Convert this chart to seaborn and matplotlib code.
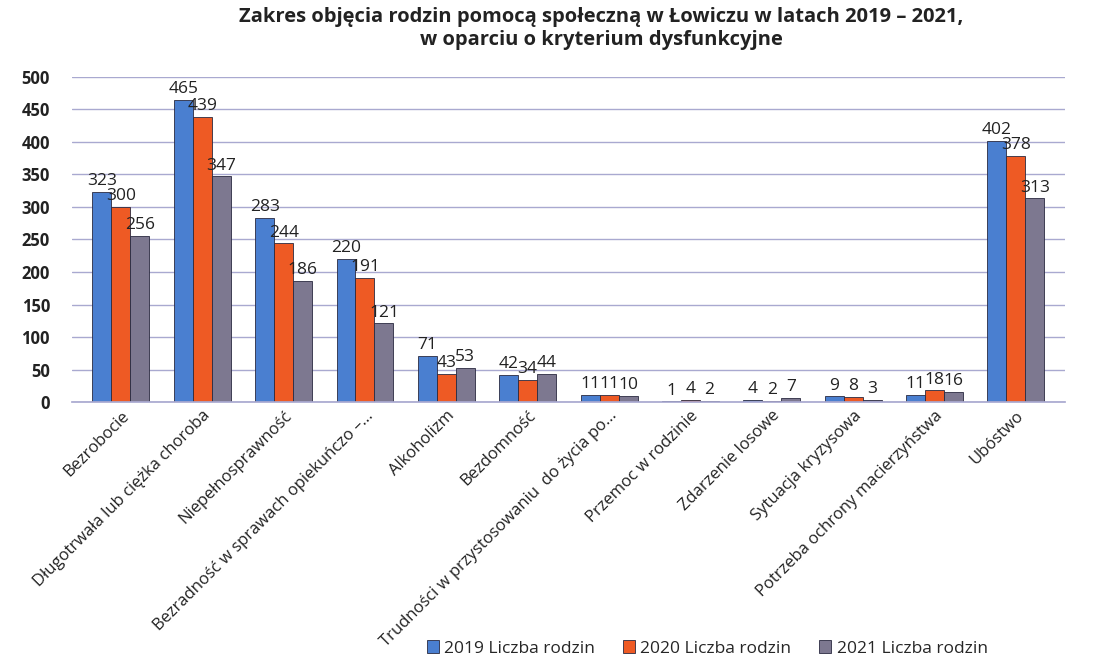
import matplotlib
matplotlib.use("Agg")
import matplotlib.pyplot as plt
import seaborn as sns
import pandas as pd

categories = [
    "Bezrobocie",
    "Długotrwała lub ciężka choroba",
    "Niepełnosprawność",
    "Bezradność w sprawach opiekuńczo –...",
    "Alkoholizm",
    "Bezdomność",
    "Trudności w przystosowaniu  do życia po...",
    "Przemoc w rodzinie",
    "Zdarzenie losowe",
    "Sytuacja kryzysowa",
    "Potrzeba ochrony macierzyństwa",
    "Ubóstwo",
]
series_names = ["2019 Liczba rodzin", "2020 Liczba rodzin", "2021 Liczba rodzin"]
values_2019 = [323, 465, 283, 220, 71, 42, 11, 1, 4, 9, 11, 402]
values_2020 = [300, 439, 244, 191, 43, 34, 11, 4, 2, 8, 18, 378]
values_2021 = [256, 347, 186, 121, 53, 44, 10, 2, 7, 3, 16, 313]
yticks = [0, 50, 100, 150, 200, 250, 300, 350, 400, 450, 500]

rows = []
for name, vals in zip(series_names, [values_2019, values_2020, values_2021]):
    for c, v in zip(categories, vals):
        rows.append({"Kategoria": c, "Seria": name, "Wartość": v})
df = pd.DataFrame(rows)

sns.set_theme(style="white")
plt.rcParams["font.family"] = ["Open Sans", "DejaVu Sans"]

colors = ["#4A7FD0", "#EE5A24", "#7D7890"]

fig = plt.figure(figsize=(10.93, 6.68), dpi=100)
ax = fig.add_axes([0.066, 0.398, 0.908, 0.487])

sns.barplot(data=df, x="Kategoria", y="Wartość", hue="Seria", palette=colors,
            width=0.7, ax=ax, edgecolor="#2a2a40", linewidth=0.6, saturation=1)

for cont in ax.containers:
    ax.bar_label(cont, fmt="%d", padding=2, fontsize=12.5, color="#222222")

ax.set_ylim(0, 500)
ax.set_yticks(yticks)
ax.set_yticklabels([str(t) for t in yticks], fontsize=12, fontweight="bold", color="#222222")
ax.yaxis.grid(True, color="#a9a9d0", linewidth=1.0)
ax.set_axisbelow(True)
for s in ["top", "right", "left"]:
    ax.spines[s].set_visible(False)
ax.spines["bottom"].set_color("#a9a9d0")
ax.set_xlabel("")
ax.set_ylabel("")
ax.tick_params(axis="y", length=0, pad=16)
ax.tick_params(axis="x", length=0, pad=4)
ax.set_xticks(range(len(categories)))
ax.set_xticklabels(categories, rotation=45, ha="right", rotation_mode="anchor",
                   fontsize=12, color="#222222")
ax.set_xlim(-0.6, len(categories) - 0.4)

ax.legend(title=None, loc="lower center", bbox_to_anchor=(0.64, -0.83), ncol=3,
          frameon=False, fontsize=12.5, handlelength=0.7, handleheight=0.7,
          columnspacing=1.6, handletextpad=0.3)

fig.suptitle("Zakres objęcia rodzin pomocą społeczną w Łowiczu w latach 2019 – 2021,\n"
             "w oparciu o kryterium dysfunkcyjne",
             x=0.55, y=0.99, fontsize=14.5, fontweight="bold", color="#222222",
             linespacing=1.25)

fig.savefig("out.png", dpi=100)
